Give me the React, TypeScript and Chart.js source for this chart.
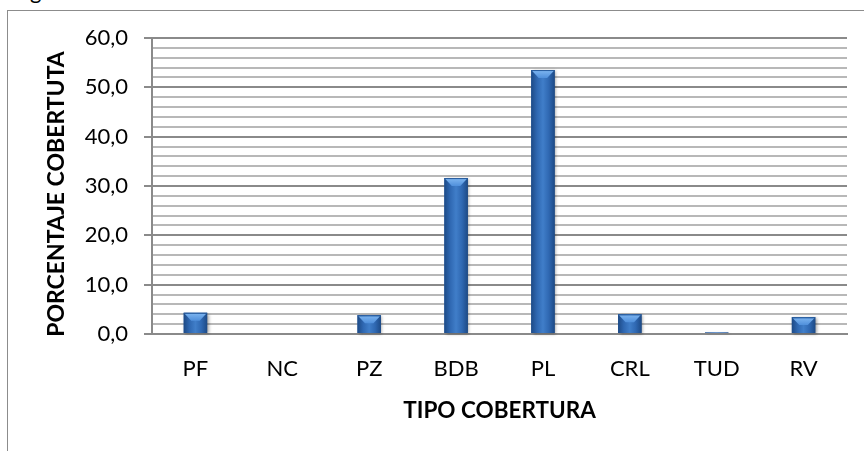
import React, { useEffect, useRef } from "react";
import { Chart, registerables } from "chart.js";

Chart.register(...registerables);

const categories = ["PF", "NC", "PZ", "BDB", "PL", "CRL", "TUD", "RV"];
const coverage = [4.3, 0.2, 3.8, 31.6, 53.5, 4.0, 0.3, 3.4];
const yMin = 0;
const yMax = 60;
const yMajorStep = 10;
const yMinorStep = 2;
const xTitle = "TIPO COBERTURA";
const yTitle = "PORCENTAJE COBERTUTA";

const FONT = "Lato, 'Open Sans', sans-serif";

const bevelPlugin = {
  id: "bevelBars",
  afterDatasetsDraw(chart: any) {
    const ctx = chart.ctx;
    const meta = chart.getDatasetMeta(0);
    meta.data.forEach((bar: any) => {
      const { x, y, base, width } = bar.getProps(["x", "y", "base", "width"], true);
      const left = x - width / 2;
      const right = x + width / 2;
      const h = base - y;
      if (h <= 0) return;
      ctx.save();
      ctx.shadowColor = "rgba(0,0,0,0.35)";
      ctx.shadowBlur = 3;
      ctx.shadowOffsetX = 1.5;
      ctx.shadowOffsetY = 1;
      const g = ctx.createLinearGradient(left, 0, right, 0);
      g.addColorStop(0, "#1d4a86");
      g.addColorStop(0.25, "#2f68b2");
      g.addColorStop(0.5, "#407ec9");
      g.addColorStop(0.75, "#2f68b2");
      g.addColorStop(1, "#1d4a86");
      ctx.fillStyle = g;
      ctx.fillRect(left, y, width, h);
      ctx.restore();
      ctx.save();
      const cap = Math.min(8, h * 0.5);
      if (cap > 1.5) {
        const cg = ctx.createLinearGradient(0, y, 0, y + cap);
        cg.addColorStop(0, "#80b7f1");
        cg.addColorStop(1, "#4f8fdb");
        ctx.fillStyle = cg;
        ctx.beginPath();
        ctx.moveTo(left + 1, y + 1);
        ctx.lineTo(right - 1, y + 1);
        ctx.lineTo(x + width * 0.18, y + cap);
        ctx.lineTo(x - width * 0.18, y + cap);
        ctx.closePath();
        ctx.fill();
        ctx.fillStyle = "#2a5e9f";
        ctx.fillRect(left, y, width, 1);
      }
      ctx.restore();
    });
  },
};

const yTitlePlugin = {
  id: "yTitle",
  afterDraw(chart: any) {
    const ctx = chart.ctx;
    const area = chart.chartArea;
    ctx.save();
    ctx.translate(57, (area.top + area.bottom) / 2 + 8);
    ctx.rotate(-Math.PI / 2);
    ctx.font = `bold 23px ${FONT}`;
    ctx.fillStyle = "#000";
    ctx.textAlign = "center";
    ctx.textBaseline = "middle";
    ctx.fillText(yTitle, 0, 0);
    ctx.restore();
  },
};

export default function App() {
  const ref = useRef<HTMLCanvasElement | null>(null);

  useEffect(() => {
    if (!ref.current) return;
    const chart = new Chart(ref.current, {
      type: "bar",
      data: {
        labels: categories,
        datasets: [
          {
            data: coverage,
            backgroundColor: "#2f68b2",
            borderWidth: 0,
            categoryPercentage: 1,
            barPercentage: 0.27,
          },
        ],
      },
      options: {
        responsive: false,
        animation: false,
        devicePixelRatio: 1,
        layout: { padding: { left: 0, top: 38, right: 17, bottom: 0 } },
        plugins: {
          legend: { display: false },
          tooltip: { enabled: false },
        },
        scales: {
          x: {
            grid: { display: false, drawTicks: false },
            border: { display: true, color: "#8a8a8a", width: 2 },
            ticks: {
              color: "#000",
              font: { family: FONT, size: 22 },
              padding: 22,
              maxRotation: 0,
              autoSkip: false,
            },
            title: {
              display: true,
              text: xTitle,
              color: "#000",
              font: { family: FONT, size: 22.5, weight: "bold" },
              padding: { top: 0, bottom: 27 },
            },
            afterFit(scale: any) {
              scale.height = 117;
            },
          },
          y: {
            min: yMin,
            max: yMax,
            border: { display: true, color: "#8a8a8a", width: 2 },
            grid: {
              drawTicks: true,
              tickLength: 8,
              lineWidth: 2,
              color: (c: any) =>
                c.tick && c.tick.value % yMajorStep === 0 ? "#8a8a8a" : "#b8b8b8",
              tickColor: (c: any) =>
                c.tick && c.tick.value % yMajorStep === 0 ? "#8a8a8a" : "rgba(0,0,0,0)",
            },
            ticks: {
              stepSize: yMinorStep,
              autoSkip: false,
              color: "#000",
              font: { family: FONT, size: 22 },
              padding: 16,
              callback: (v: any) =>
                Number(v) % yMajorStep === 0 ? Number(v).toFixed(1).replace(".", ",") : "",
            },
            title: { display: false },
            afterFit(scale: any) {
              scale.width = 152;
            },
          },
        },
      },
      plugins: [bevelPlugin, yTitlePlugin],
    });
    return () => chart.destroy();
  }, []);

  return (
    <div
      style={{
        position: "fixed",
        left: 0,
        top: 0,
        width: 864,
        height: 451,
        overflow: "hidden",
        background: "#fff",
      }}
    >
      <div
        style={{
          position: "absolute",
          left: 7,
          top: 10,
          width: 900,
          height: 500,
          border: "1.5px solid #8c8c8c",
          boxSizing: "border-box",
        }}
      />
      <div
        style={{
          position: "absolute",
          left: 30,
          top: -20,
          fontFamily: FONT,
          fontSize: 22,
          lineHeight: "22px",
          color: "#000",
        }}
      >
        g
      </div>
      <canvas
        ref={ref}
        width={864}
        height={451}
        style={{ position: "absolute", left: 0, top: 0 }}
      />
    </div>
  );
}
